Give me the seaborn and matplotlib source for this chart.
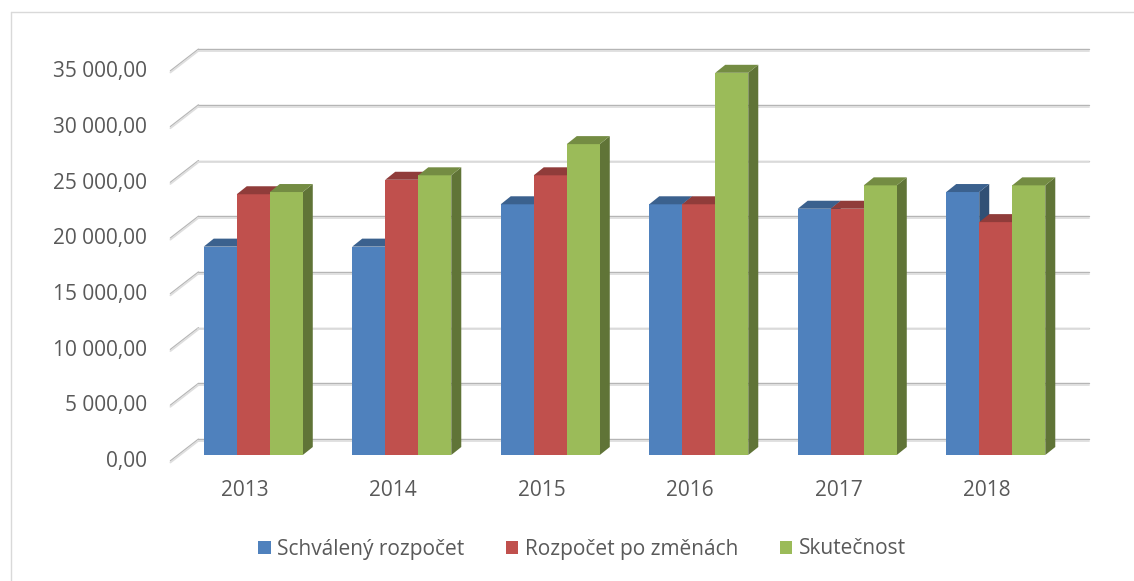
import pandas as pd
import matplotlib.pyplot as plt
import seaborn as sns
from matplotlib.patches import Patch, Polygon
from matplotlib.lines import Line2D
from matplotlib.transforms import ScaledTranslation, IdentityTransform, offset_copy
import matplotlib.colors as mcolors

# data
years = ["2013", "2014", "2015", "2016", "2017", "2018"]
series = ["Schválený rozpočet", "Rozpočet po změnách", "Skutečnost"]
schvaleny = [18700, 18700, 22500, 22500, 22100, 23600]
po_zmenach = [23400, 24700, 25100, 22500, 22100, 20900]
skutecnost = [23600, 25100, 27900, 34300, 24200, 24200]
y_ticks = [0, 5000, 10000, 15000, 20000, 25000, 30000, 35000]
colors = ["#4F81BD", "#C0504D", "#9BBB59"]

df = pd.DataFrame({
    "year": years * 3,
    "series": [s for s in series for _ in years],
    "value": schvaleny + po_zmenach + skutecnost,
})

sns.set_style("white")
plt.rcParams["font.family"] = ["Open Sans", "DejaVu Sans"]
txt_color = "#595959"
fsize = 15

W, H = 1134, 581
fig = plt.figure(figsize=(W / 100, H / 100), dpi=100)
# axes = plane of the bar front faces
ax = fig.add_axes([179 / W, (H - 455) / H, 891 / W, 390 / H])

sns.barplot(data=df, x="year", y="value", hue="series", hue_order=series,
            order=years, palette=colors, saturation=1, width=0.667,
            legend=False, ax=ax)
ax.set_xlim(-0.5, 5.5)
ax.set_ylim(0, 35000)
ax.set_xlabel("")
ax.set_ylabel("")
ax.set_xticks([])
ax.set_yticks([])
sns.despine(ax=ax, left=True, bottom=True)
ax.patch.set_alpha(0)

# back wall gridlines and the slanted floor/wall edges
back = (19.4, 15)
front = (-8.6, -6.7)
for v in y_ticks:
    for off, col, lw in [(0.8, "#b5b5b5", 1.0), (-0.8, "#dedede", 1.3)]:
        t = offset_copy(ax.transData, fig, x=back[0], y=back[1] + off, units="dots")
        ax.add_line(Line2D([-0.5, 5.5], [v, v], transform=t, color=col, lw=lw,
                           clip_on=False, zorder=0.5))
        t2 = ScaledTranslation(-0.5, v, ax.transData)
        ax.add_line(Line2D([front[0], back[0]], [front[1] + off, back[1] + off],
                           transform=IdentityTransform() + t2, color=col, lw=lw,
                           clip_on=False, zorder=0.5))
    label = f"{v:,.2f}".replace(",", " ").replace(".", ",")
    ax.text(0, v, label, transform=offset_copy(ax.get_yaxis_transform(), fig,
            x=-32, y=front[1], units="dots"), ha="right", va="center",
            fontsize=fsize, color=txt_color)

for i, yr in enumerate(years):
    ax.text(i, 0, yr, transform=offset_copy(ax.get_xaxis_transform(), fig,
            x=front[0], y=-35, units="dots"), ha="center", va="center",
            fontsize=fsize, color=txt_color)

# fake 3d: top and side faces built from the bars seaborn drew
dx, dy = 10, 8
for h, cont in enumerate(ax.containers):
    base = mcolors.to_rgb(colors[h])
    top_c = tuple(c * 0.75 for c in base)
    side_c = tuple(c * 0.62 for c in base)
    for bar in cont:
        bar.set_zorder(3 + h * 0.1)
        bar.set_edgecolor("none")
        x0, y0 = bar.get_x(), bar.get_y()
        (px0, py0) = ax.transData.transform((x0, y0))
        (px1, py1) = ax.transData.transform((x0 + bar.get_width(), y0 + bar.get_height()))
        top = Polygon([(px0, py1), (px1, py1), (px1 + dx, py1 + dy), (px0 + dx, py1 + dy)],
                      closed=True, transform=IdentityTransform(), facecolor=top_c,
                      edgecolor="none", zorder=3 + h * 0.1 + 0.05, clip_on=False)
        side = Polygon([(px1, py0), (px1, py1), (px1 + dx, py1 + dy), (px1 + dx, py0 + dy)],
                       closed=True, transform=IdentityTransform(), facecolor=side_c,
                       edgecolor="none", zorder=2, clip_on=False)
        ax.add_patch(top)
        ax.add_patch(side)

# legend
handles = [Patch(facecolor=c, edgecolor="none") for c in colors]
fig.legend(handles, series, loc="center", bbox_to_anchor=(582 / W, 1 - 549 / H),
           ncol=3, frameon=False, fontsize=fsize, labelcolor=txt_color,
           handlelength=0.6, handleheight=0.6, handletextpad=0.3, columnspacing=2.0)

# chart area border (top and left visible)
fig.add_artist(Line2D([10.5 / W, 1], [1 - 12 / H, 1 - 12 / H], transform=fig.transFigure,
                      color="#d9d9d9", lw=1))
fig.add_artist(Line2D([10.5 / W, 10.5 / W], [0, 1 - 12 / H], transform=fig.transFigure,
                      color="#d9d9d9", lw=1))

fig.savefig("out.png", dpi=100)
